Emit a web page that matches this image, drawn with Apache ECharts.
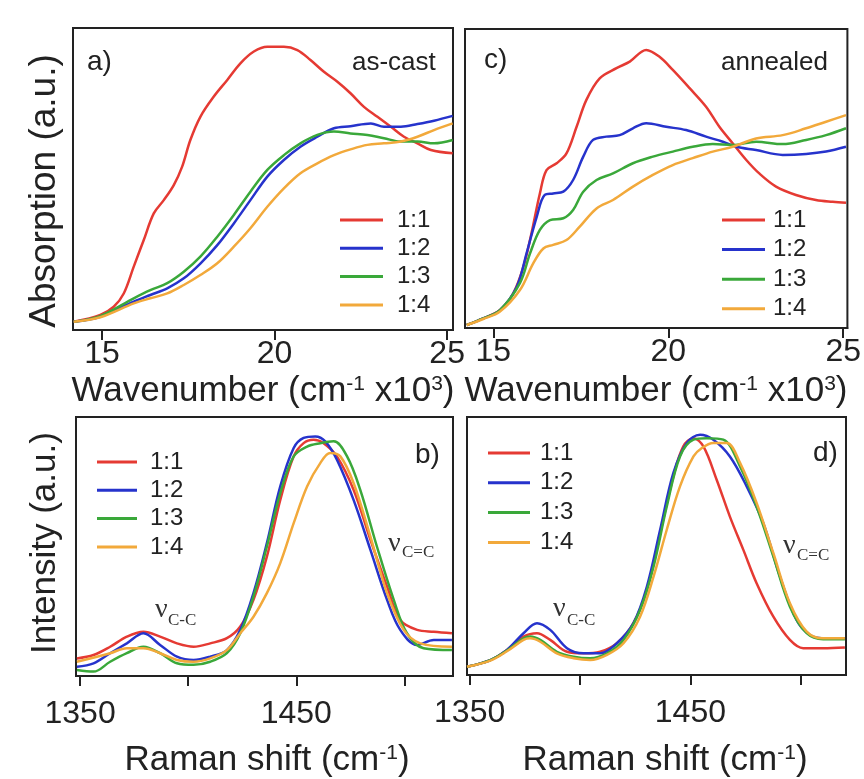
<!DOCTYPE html>
<html><head><meta charset="utf-8">
<script src="https://cdn.jsdelivr.net/npm/echarts@6/dist/echarts.min.js"></script>
<style>html,body{margin:0;padding:0;background:#fff}#c{width:864px;height:779px}</style>
</head><body><div id="c"></div>
<script>
// ---- data (x, relative intensity 0-100 of panel height) ----
const seriesNames = ['1:1', '1:2', '1:3', '1:4'];
const absTicks = [15, 20, 25];
const ramanTicks = [1350, 1400, 1450, 1500];
const ramanLabels = [1350, 1450];

// a) as-cast absorption (wavenumber x10^3 cm-1)
const asCast11 = [[14.18,2.7],[14.95,5],[15.34,7.7],[15.63,12.1],[15.92,21],[16.21,29.8],[16.5,38.6],[16.79,43],[17.08,48],[17.32,54],[17.56,62.9],[17.85,70.6],[18.24,77.3],[18.63,82.8],[19.01,88.3],[19.4,92.2],[19.79,93.8],[20.27,93.8],[20.66,92.7],[21.04,89.4],[21.43,85.5],[21.82,82.2],[22.2,78.4],[22.59,73.9],[22.98,70.6],[23.37,67.3],[23.75,64],[24.14,61.8],[24.53,59.6],[25.16,58.5]];
const asCast12 = [[14.18,2.7],[14.95,4.4],[15.92,9.4],[16.4,11.6],[16.89,13.8],[17.37,17.1],[17.85,22],[18.34,28.1],[18.82,35.3],[19.3,43],[19.79,50.8],[20.27,56.3],[20.75,60.7],[21.24,64],[21.72,66.8],[22.2,67.5],[22.79,68.4],[23.17,67.3],[23.66,67.3],[24.14,68.2],[24.62,69.3],[25.16,70.9]];
const asCast13 = [[14.18,2.7],[14.95,4.6],[15.92,10.5],[16.4,13.2],[16.89,15.5],[17.37,19.3],[17.85,24.3],[18.34,30.9],[18.82,38.1],[19.3,45.8],[19.79,53],[20.27,57.9],[20.75,61.8],[21.24,64.6],[21.72,65.7],[22.2,65.1],[22.69,64.6],[23.17,63.5],[23.66,62.4],[24.14,62.4],[24.62,61.8],[25.16,62.9]];
const asCast14 = [[14.18,2.7],[14.95,4.2],[15.92,8.8],[16.4,10.5],[16.89,12.1],[17.37,14.9],[17.85,18.2],[18.34,22.1],[18.82,27.6],[19.3,33.7],[19.79,40.8],[20.27,46.9],[20.75,51.9],[21.24,55.2],[21.72,57.9],[22.2,59.8],[22.69,61.3],[23.17,61.8],[23.66,62.4],[24.14,64],[24.62,66.2],[25.16,68.4]];

// c) annealed absorption
const annealed11 = [[14.24,1],[14.71,3.2],[15.19,6],[15.57,11.6],[15.86,20.5],[16.09,31.7],[16.33,45],[16.52,52.8],[16.81,55.1],[17.09,58.4],[17.38,67.3],[17.66,76.3],[18.04,83.5],[18.52,86.9],[18.9,89.1],[19.37,93],[19.75,90.7],[20.13,86.3],[20.61,80.2],[21.08,74],[21.46,67.3],[21.84,61.8],[22.23,56.2],[22.6,51.7],[23.08,47.3],[23.65,44.5],[24.22,42.8],[24.7,42.2],[25.08,41.9]];
const annealed12 = [[14.24,1],[14.71,3.2],[15.19,6],[15.67,13.8],[15.95,25],[16.24,37.2],[16.47,44.5],[16.71,45],[17,45.6],[17.28,49.5],[17.57,57.3],[17.85,62.9],[18.23,64],[18.61,64.5],[18.99,66.8],[19.37,68.5],[19.94,67.3],[20.51,66.2],[21.08,64],[21.56,62.3],[21.94,60.6],[22.51,59.5],[23.27,57.9],[23.94,58.2],[24.51,59],[25.08,60.6]];
const annealed13 = [[14.24,1],[14.71,3.2],[15.19,6],[15.76,15],[16.05,25],[16.33,32.8],[16.62,36.1],[17,36.7],[17.28,39.5],[17.57,45.6],[17.95,49.5],[18.42,51.7],[18.99,55.1],[19.56,57.3],[20.13,59],[20.7,60.6],[21.27,61.5],[21.84,61.2],[22.51,62.3],[23.27,61.5],[23.94,62.9],[24.51,64.5],[25.08,66.8]];
const annealed14 = [[14.24,1],[14.71,3],[15.19,5.5],[15.76,12.7],[16.14,21.6],[16.43,26.6],[16.71,27.8],[17.09,29.4],[17.47,33.9],[17.95,40],[18.42,42.8],[18.99,47.3],[19.56,51.2],[20.13,54.5],[20.7,56.8],[21.27,59],[21.84,60.6],[22.51,63.4],[23.27,64.5],[23.94,66.8],[24.51,69],[25.08,71.2]];

// b) as-cast Raman (cm-1)
const ramanAsCast11 = [[1348.5,6.8],[1356.2,8.1],[1363.9,11.3],[1371.6,15.2],[1379.3,17.1],[1387,15.2],[1394.8,12.6],[1402.5,11.3],[1410.2,12.6],[1417.9,14.6],[1424.1,19.1],[1430.2,29.4],[1436.4,46.1],[1442.6,68],[1448.8,84.8],[1453.4,89.9],[1458,91.2],[1462.6,89.9],[1468.8,84.8],[1476.5,71.9],[1484.3,52.6],[1492,34.5],[1498.1,21.6],[1505.9,17.8],[1513.6,17.1],[1522,16.5]];
const ramanAsCast12 = [[1348.5,3.6],[1356.2,4.9],[1363.9,8.8],[1371.6,12.6],[1379.3,16.5],[1387,12],[1394.8,7.5],[1402.5,6.2],[1410.2,7.5],[1417.9,10],[1424.1,17.8],[1430.2,32],[1436.4,51.3],[1442.6,73.2],[1448.8,88],[1453.4,91.9],[1458.8,92.5],[1463.4,90.6],[1468.8,83.5],[1476.5,68],[1484.3,48.7],[1492,29.4],[1498.1,17.8],[1505.9,12],[1513.6,13.9],[1522,13.9]];
const ramanAsCast13 = [[1348.5,2.3],[1356.2,1.7],[1363.9,5.5],[1371.6,8.8],[1379.3,11.3],[1387,8.8],[1394.8,4.9],[1402.5,4.3],[1410.2,5.5],[1417.9,8.8],[1424.1,16.5],[1430.2,30.7],[1436.4,50],[1442.6,70.6],[1448.8,84.8],[1455,88.6],[1461.1,89.9],[1467.3,90.6],[1473.5,84.8],[1479.6,71.9],[1487.3,50],[1495.1,29.4],[1501.2,16.5],[1508.9,10.7],[1522,10]];
const ramanAsCast14 = [[1348.5,5.5],[1363.9,8.8],[1371.6,10.7],[1379.3,10.7],[1387,8.8],[1394.8,6.2],[1402.5,5.5],[1410.2,6.8],[1417.9,10],[1424.1,16.5],[1430.2,22.9],[1436.4,32],[1442.6,43.6],[1448.8,59],[1455,73.2],[1461.1,82.2],[1465.7,86.1],[1470.4,84.8],[1476.5,74.5],[1484.3,53.8],[1492,32],[1499.7,17.8],[1507.4,12.6],[1522,11.3]];

// d) annealed Raman
const ramanAnnealed11 = [[1348.8,3.2],[1359.4,5.8],[1366.9,9.7],[1374.4,14.9],[1380.5,16.2],[1386.5,13.6],[1394.1,9],[1401.6,8.4],[1409.1,9],[1416.7,12.3],[1424.2,20.1],[1430.3,33],[1436.3,55],[1442.3,77],[1446.8,88.6],[1451.4,91.8],[1455.9,88.6],[1461.9,75.7],[1467.9,61.4],[1474,48.5],[1480,35.6],[1487.6,22.6],[1495.1,13.6],[1501.1,10.4],[1510.2,10.4],[1520,10.7]];
const ramanAnnealed12 = [[1348.8,3.2],[1359.4,5.8],[1366.9,9.7],[1374.4,16.2],[1380.5,20.1],[1386.5,17.5],[1394.1,10.4],[1401.6,8.4],[1409.1,8.4],[1416.7,12.3],[1424.2,20.1],[1430.3,34.3],[1436.3,56.3],[1442.3,78.3],[1448.4,89.9],[1454.4,93.1],[1460.4,91.2],[1467.9,84.7],[1475.5,73.1],[1483,58.9],[1490.6,38.1],[1498.1,21.3],[1504.2,15.5],[1511.7,14.2],[1520,14.2]];
const ramanAnnealed13 = [[1348.8,3.2],[1359.4,5.8],[1366.9,9.5],[1374.4,14.2],[1377.5,14.9],[1382,13.6],[1389.5,9],[1397.1,7.1],[1404.6,6.5],[1412.2,8.4],[1419.7,13.6],[1427.2,25.2],[1433.3,42],[1439.3,65.3],[1445.3,84.7],[1451.4,91.2],[1457.4,91.8],[1464.9,91.2],[1472.5,80.8],[1480,65.3],[1487.6,45.9],[1495.1,26.5],[1502.7,16.2],[1510.2,13.9],[1520,13.9]];
const ramanAnnealed14 = [[1348.8,3.2],[1359.4,5.6],[1366.9,9.2],[1374.4,13.6],[1377.5,14.2],[1382,12.9],[1389.5,8.4],[1397.1,6.5],[1404.6,5.8],[1412.2,7.8],[1419.7,12.3],[1427.2,22.6],[1433.3,38.1],[1439.3,56.3],[1445.3,73.1],[1451.4,84.7],[1455.2,88],[1460.4,89.9],[1466.5,89.9],[1472.5,82.2],[1480,66.7],[1487.6,47.2],[1495.1,27.8],[1502.7,16.8],[1510.2,14.2],[1520,14.2]];

// ---- styling ----
const FONT = 'Liberation Sans, Arial, sans-serif';
const SERIF = 'Liberation Serif, Times New Roman, serif';
const INK = '#222';
const colors = ['#e53a33', '#2633cc', '#3aa83a', '#f2a93b'];

const grids = [
  {left: 73, top: 28, width: 380, height: 302},
  {left: 465, top: 29, width: 383, height: 299},
  {left: 76, top: 417, width: 377, height: 259},
  {left: 467, top: 417, width: 379, height: 258}
].map(g => Object.assign(g, {show: true, borderColor: INK, borderWidth: 2, backgroundColor: 'transparent'}));

function xAxis(gi, min, max, ticks, labels, margin) {
  return {
    type: 'value', gridIndex: gi, min: min, max: max,
    splitLine: {show: false},
    axisLine: {show: true, onZero: false, lineStyle: {color: INK, width: 2}},
    axisTick: {show: true, inside: false, length: 10, lineStyle: {color: INK, width: 2}, customValues: ticks},
    axisLabel: {customValues: labels, fontSize: 32, color: INK, fontFamily: FONT, margin: margin,
                formatter: v => String(v)}
  };
}
const xAxes = [
  xAxis(0, 14.16, 25.17, absTicks, absTicks, 8),
  xAxis(1, 14.19, 25.12, absTicks, absTicks, 8),
  xAxis(2, 1348.1, 1522.5, ramanTicks, ramanLabels, 22),
  xAxis(3, 1348.8, 1520.5, ramanTicks, ramanLabels, 22)
];
const yAxes = [0,1,2,3].map(i => ({type: 'value', gridIndex: i, min: 0, max: 100, show: false}));

const panelData = [
  [asCast11, asCast12, asCast13, asCast14],
  [annealed11, annealed12, annealed13, annealed14],
  [ramanAsCast11, ramanAsCast12, ramanAsCast13, ramanAsCast14],
  [ramanAnnealed11, ramanAnnealed12, ramanAnnealed13, ramanAnnealed14]
];
const series = [];
panelData.forEach((set, p) => {
  set.forEach((d, k) => {
    series.push({
      type: 'line', name: seriesNames[k], xAxisIndex: p, yAxisIndex: p,
      data: d, symbol: 'none', smooth: 0.35,
      lineStyle: {color: colors[k], width: 2.5}, itemStyle: {color: colors[k]},
      silent: true, animation: false
    });
  });
});

function legend(left, top, w, gap, padLeft) {
  return {
    orient: 'vertical', left: left, top: top, padding: 0, itemGap: gap,
    itemWidth: w, itemHeight: 3, icon: 'rect', selectedMode: false,
    data: seriesNames,
    textStyle: {fontSize: 24, lineHeight: 24, color: INK, fontFamily: FONT, padding: [0, 0, 0, padLeft]}
  };
}
const legends = [
  legend(340, 208, 43, 4.3, 9),
  legend(722, 208, 43, 5.6, 3),
  legend(97, 450, 40, 4.3, 8),
  legend(488, 441, 42, 5.8, 5)
];

function txt(x, y, text, size, opts) {
  return Object.assign({
    type: 'text', x: x, y: y, silent: true,
    style: {text: text, fontSize: size, fontFamily: FONT, fill: INK,
            textAlign: 'left', textVerticalAlign: 'middle', align: 'left', verticalAlign: 'middle'}
  }, opts || {});
}
function richTitle(x, y, text, rot, size) {
  const fs = size || 35;
  return {
    type: 'text', x: x, y: y, rotation: rot || 0, silent: true,
    style: {
      text: text, fill: INK, fontFamily: FONT, fontSize: fs,
      textAlign: 'center', textVerticalAlign: 'middle', align: 'center', verticalAlign: 'middle',
      rich: {
        a: {fontSize: fs, fontFamily: FONT, fill: INK, color: INK},
        s: {fontSize: Math.round(fs * 0.6), fontFamily: FONT, fill: INK, color: INK, verticalAlign: 'top'}
      }
    }
  };
}
function nu(x, y, sub, sx, sy) {
  return [
    {type: 'text', x: x, y: y, silent: true, style: {text: 'ν', fontSize: 28, fontFamily: SERIF, fill: '#333', textAlign: 'left', textVerticalAlign: 'middle', align: 'left', verticalAlign: 'middle'}},
    {type: 'text', x: sx, y: sy, silent: true, style: {text: sub, fontSize: 17, fontFamily: SERIF, fill: '#333', textAlign: 'left', textVerticalAlign: 'middle', align: 'left', verticalAlign: 'middle'}}
  ];
}

const graphics = [
  txt(87, 62, 'a)', 28),
  txt(352, 63, 'as-cast', 26),
  txt(484, 60, 'c)', 28),
  txt(721, 63, 'annealed', 26),
  txt(415, 455, 'b)', 28),
  txt(813, 453, 'd)', 28),
  richTitle(45, 191, '{a|Absorption (a.u.)}', Math.PI / 2, 37),
  richTitle(45, 543, '{a|Intensity (a.u.)}', Math.PI / 2, 35),
  richTitle(263, 391, '{a|Wavenumber (cm}{s|-1}{a| x10}{s|3}{a|)}'),
  richTitle(656, 391, '{a|Wavenumber (cm}{s|-1}{a| x10}{s|3}{a|)}'),
  richTitle(267, 760, '{a|Raman shift (cm}{s|-1}{a|)}'),
  richTitle(665, 760, '{a|Raman shift (cm}{s|-1}{a|)}')
].concat(
  nu(388, 544, 'C=C', 402, 553),
  nu(155, 610, 'C-C', 168, 621),
  nu(783, 546, 'C=C', 797, 556),
  nu(553, 609, 'C-C', 567, 621)
);

const chart = echarts.init(document.getElementById('c'), null, {renderer: 'canvas'});
chart.setOption({
  animation: false,
  backgroundColor: '#fff',
  grid: grids,
  xAxis: xAxes,
  yAxis: yAxes,
  legend: legends,
  series: series,
  graphic: {elements: graphics}
});
</script>
</body></html>
